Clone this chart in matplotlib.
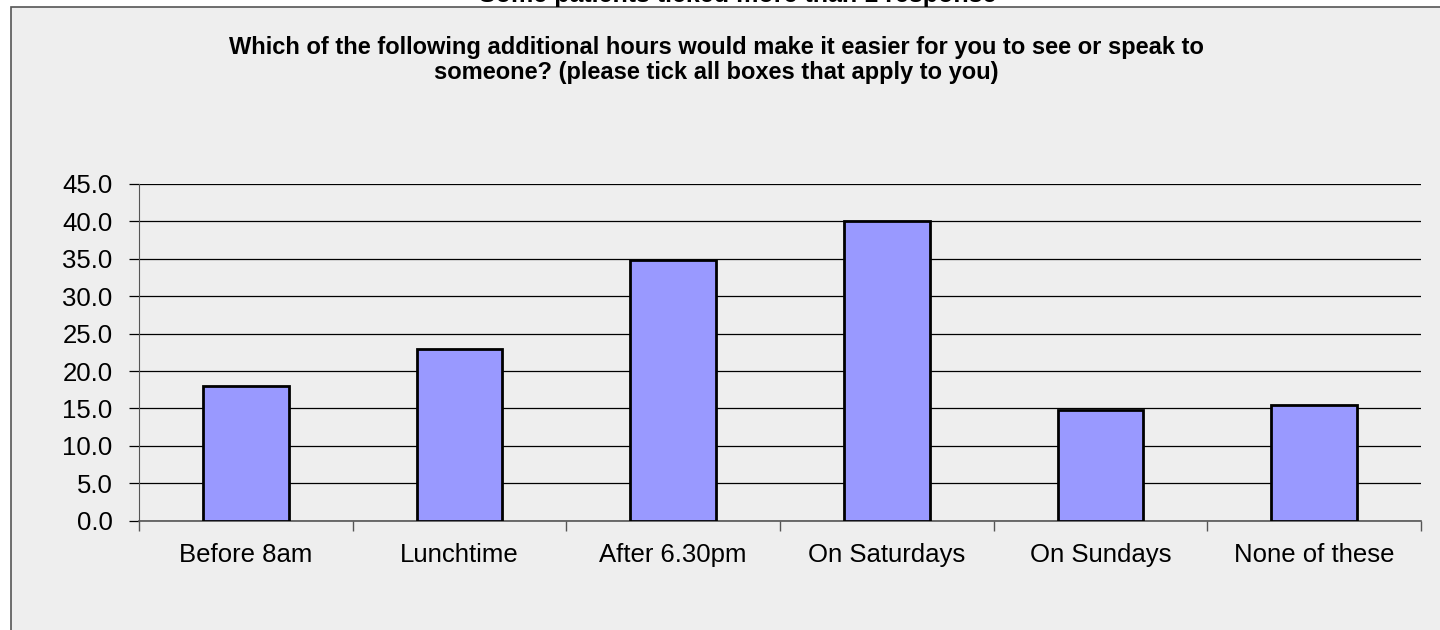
import matplotlib.pyplot as plt
import numpy as np
from matplotlib.patches import Rectangle

# Categories and values
categories = ['Before 8am', 'Lunchtime', 'After 6.30pm', 'On Saturdays', 'On Sundays', 'None of these']
values = [18.0, 23.0, 34.8, 40.0, 14.8, 15.4]
y_ticks = [0, 5, 10, 15, 20, 25, 30, 35, 40, 45]

plt.rcParams['font.family'] = ['Liberation Sans', 'DejaVu Sans']

fig = plt.figure(figsize=(14.4, 6.3), dpi=100)
fig.patch.set_facecolor('white')

# grey chart panel (cropped at the right and bottom edges)
panel = Rectangle((11 / 1440, -0.1), 1.2, 1 - 7 / 630 + 0.1, transform=fig.transFigure,
                  facecolor='#eeeeee', edgecolor='#555555', linewidth=1.2, zorder=-10)
fig.patches.append(panel)

ax = fig.add_axes([139 / 1440, 1 - 520.7 / 630, (1421 - 139) / 1440, (520.7 - 184) / 630])
ax.set_facecolor('none')

x = np.arange(len(categories))
ax.bar(x, values, width=0.4, color='#9999ff', edgecolor='black', linewidth=2.0, zorder=3)

ax.set_xlim(-0.5, len(categories) - 0.5)
ax.set_ylim(0, 45)
ax.set_yticks(y_ticks)
ax.set_yticklabels([f'{v:.1f}' for v in y_ticks], fontsize=18.5)
ax.yaxis.grid(True, color='black', linewidth=0.9, zorder=1)
ax.set_axisbelow(True)

ax.set_xticks(x)
ax.set_xticklabels(categories, fontsize=18.5)
ax.tick_params(axis='x', length=0, pad=16)
ax.set_xticks(np.arange(len(categories) + 1) - 0.5, minor=True)
ax.tick_params(axis='x', which='minor', length=7, color='#555555', width=1)
ax.tick_params(axis='y', length=7, color='black', width=0.9, pad=12)

for side in ['top', 'right']:
    ax.spines[side].set_visible(False)
ax.spines['left'].set_color('#555555')
ax.spines['bottom'].set_color('#555555')
ax.spines['bottom'].set_linewidth(1.2)

fig.text(738 / 1440, 1.008, 'Some patients ticked more than 1 response', ha='center', va='center',
         fontsize=18, fontweight='bold')
fig.text(716 / 1440, 1 - 60 / 630,
         'Which of the following additional hours would make it easier for you to see or speak to\n'
         'someone? (please tick all boxes that apply to you)',
         ha='center', va='center', fontsize=17, fontweight='bold', linespacing=1.1)

fig.savefig('out.png', dpi=100)
